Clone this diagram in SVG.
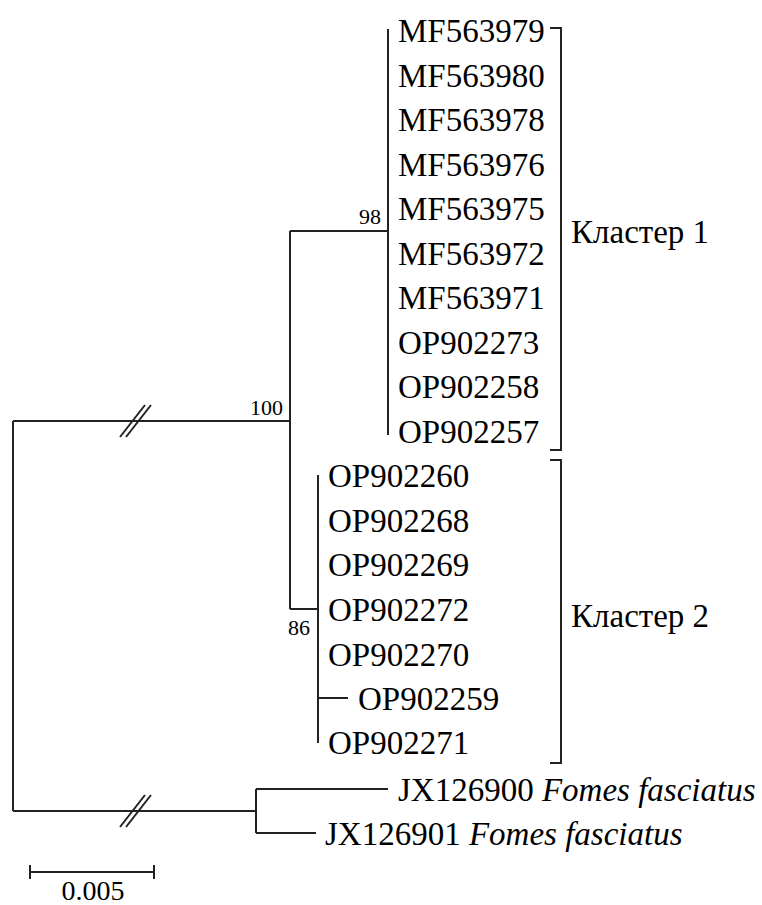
<svg xmlns="http://www.w3.org/2000/svg" width="762" height="905" viewBox="0 0 762 905">
<style>
.e{stroke:#222;stroke-width:2;fill:none}
.t{font-family:"Liberation Serif","Times New Roman",serif;font-size:33px;fill:#000}
.i{font-style:italic}
.b{font-family:"Liberation Serif","Times New Roman",serif;font-size:22px;fill:#000}
.s{font-family:"Liberation Serif","Times New Roman",serif;font-size:28px;fill:#000}
</style>
<rect width="762" height="905" fill="#fff"/>
<g id="connectors">
<path class="e" d="M13,421 H290 M13,421 V811 M13,811 H256"/>
<path class="e" d="M120,437 L145,405 M126,437 L151,405"/>
<path class="e" d="M120,827 L145,795 M126,827 L151,795"/>
<path class="e" d="M290,231 V609 M290,231 H388 M290,609 H318"/>
<path class="e" d="M388,29 V435"/>
<path class="e" d="M318,475 V743 M318,698 H348"/>
<path class="e" d="M256,789 V833 M256,789 H388 M256,833 H316"/>
<path class="e" d="M550,28 H561 V450 H550"/>
<path class="e" d="M550,460 H561 V763 H550"/>
<path class="e" d="M30,872 H154 M30,865 V879 M154,865 V879"/>
</g>
<g id="support">
<text class="b" x="283" y="415" text-anchor="end">100</text>
<text class="b" x="381" y="224" text-anchor="end">98</text>
<text class="b" x="310" y="635" text-anchor="end">86</text>
</g>
<g id="cluster1">
<text class="t" x="398" y="42">MF563979</text>
<text class="t" x="398" y="87">MF563980</text>
<text class="t" x="398" y="131">MF563978</text>
<text class="t" x="398" y="176">MF563976</text>
<text class="t" x="398" y="220">MF563975</text>
<text class="t" x="398" y="265">MF563972</text>
<text class="t" x="398" y="309">MF563971</text>
<text class="t" x="398" y="354">OP902273</text>
<text class="t" x="398" y="398">OP902258</text>
<text class="t" x="398" y="443">OP902257</text>
</g>
<g id="cluster2">
<text class="t" x="328" y="487">OP902260</text>
<text class="t" x="328" y="532">OP902268</text>
<text class="t" x="328" y="576">OP902269</text>
<text class="t" x="328" y="621">OP902272</text>
<text class="t" x="328" y="666">OP902270</text>
<text class="t" x="358" y="710">OP902259</text>
<text class="t" x="328" y="754">OP902271</text>
</g>
<g id="outgroup">
<text class="t" x="398" y="801">JX126900 <tspan class="i">Fomes fasciatus</tspan></text>
<text class="t" x="325" y="845">JX126901 <tspan class="i">Fomes fasciatus</tspan></text>
</g>
<g id="labels">
<text class="t" x="571" y="243">Кластер 1</text>
<text class="t" x="571" y="627">Кластер 2</text>
</g>
<g id="scale">
<text class="s" x="93" y="900" text-anchor="middle">0.005</text>
</g>
</svg>
